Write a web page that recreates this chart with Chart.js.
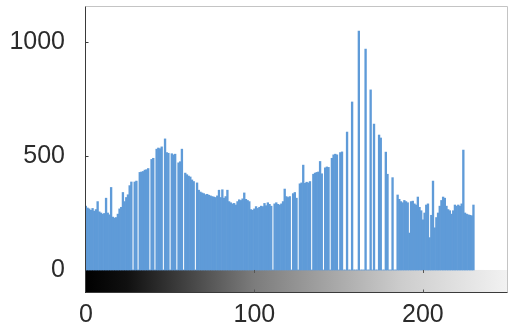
<!DOCTYPE html>
<html>
<head>
<meta charset="utf-8">
<script src="https://cdn.jsdelivr.net/npm/chart.js@4/dist/chart.umd.min.js"></script>
<style>
  html, body { margin: 0; padding: 0; background: #ffffff; }
  #wrap { width: 510px; height: 328px; }
</style>
</head>
<body>
<div id="wrap"><canvas id="c" width="510" height="328"></canvas></div>
<script>
// Intensity levels shown on the x axis (0 .. 250)
const levels = Array.from({ length: 251 }, (_, i) => i);

// Histogram counts for intensity levels 0 .. 230
const counts = [
  280, 272, 268, 262, 270, 258, 265, 300, 255, 250,
  245, 248, 315, 250, 242, 362, 232, 228, 230, 245,
  268, 275, 340, 300, 318, 330, 370, 386, 0, 386,
  390, 0, 428, 430, 432, 438, 440, 445, 0, 485,
  490, 0, 530, 535, 532, 540, 0, 575, 515, 512,
  0, 510, 505, 508, 0, 470, 475, 530, 0, 425,
  418, 412, 408, 395, 388, 0, 382, 350, 342, 338,
  335, 330, 332, 328, 325, 322, 320, 318, 325, 350,
  318, 352, 315, 322, 350, 300, 295, 290, 292, 285,
  300, 308, 305, 312, 338, 310, 305, 300, 265, 262,
  268, 278, 270, 275, 280, 278, 292, 282, 295, 288,
  280, 0, 290, 295, 288, 285, 290, 300, 355, 322,
  318, 322, 0, 335, 340, 315, 0, 378, 382, 460,
  380, 385, 382, 388, 0, 420, 425, 428, 430, 476,
  422, 0, 448, 452, 450, 0, 490, 505, 508, 505,
  0, 515, 518, 0, 0, 605, 0, 0, 737, 0,
  0, 0, 1048, 0, 0, 0, 969, 0, 0, 790,
  0, 640, 0, 0, 592, 579, 0, 0, 517, 420,
  0, 0, 405, 0, 0, 329, 310, 300, 295, 305,
  300, 295, 162, 300, 302, 290, 285, 320, 275, 260,
  220, 250, 285, 290, 142, 240, 390, 185, 230, 250,
  280, 305, 320, 315, 280, 265, 260, 245, 260, 285,
  280, 285, 280, 290, 526, 250, 245, 242, 240, 238,
  285
];

// Axis tick values
const xTickValues = [0, 100, 200];
const yTickValues = [0, 500, 1000];

const textColor = '#2b2b2b';
const barColor = '#5f9bd8';

const grayscaleBar = {
  id: 'grayscaleBar',
  beforeDatasetsDraw(chart) {
    const { ctx, chartArea } = chart;
    const y0 = chart.scales.y.getPixelForValue(0);
    const g = ctx.createLinearGradient(chartArea.left, 0, chartArea.right, 0);
    g.addColorStop(0, '#000000');
    g.addColorStop(0.1, '#101010');
    g.addColorStop(0.4, '#7c7c7c');
    g.addColorStop(0.75, '#cdcdcd');
    g.addColorStop(1, '#f2f2f2');
    ctx.save();
    ctx.fillStyle = g;
    ctx.fillRect(chartArea.left, y0, chartArea.right - chartArea.left, chartArea.bottom - y0);
    ctx.restore();
  },
  afterDraw(chart) {
    const { ctx, chartArea } = chart;
    const L = chartArea.left + 0.5, R = chartArea.right - 0.5, T = chartArea.top + 0.5, B = chartArea.bottom - 0.5;
    ctx.save();
    ctx.lineWidth = 1;
    ctx.strokeStyle = '#c4c4c4';
    ctx.beginPath();
    ctx.moveTo(L, T); ctx.lineTo(R, T); ctx.lineTo(R, B);
    ctx.stroke();
    ctx.strokeStyle = '#3a3a3a';
    ctx.beginPath();
    ctx.moveTo(L, T); ctx.lineTo(L, B); ctx.lineTo(R, B);
    ctx.stroke();
    const ys = chart.scales.y;
    yTickValues.forEach(v => {
      if (v === 0) return;
      const py = Math.round(ys.getPixelForValue(v)) + 0.5;
      ctx.beginPath(); ctx.moveTo(L, py); ctx.lineTo(L + 3, py); ctx.stroke();
    });
    const xs = chart.scales.x;
    const y0 = ys.getPixelForValue(0);
    ctx.strokeStyle = '#555555';
    xTickValues.forEach(v => {
      if (v === 0) return;
      const px = Math.round(xs.getPixelForValue(v)) + 0.5;
      ctx.beginPath(); ctx.moveTo(px, y0); ctx.lineTo(px, y0 + 3); ctx.stroke();
      ctx.beginPath(); ctx.moveTo(px, B); ctx.lineTo(px, B - 3); ctx.stroke();
    });
    ctx.restore();
  }
};

new Chart(document.getElementById('c'), {
  type: 'bar',
  data: {
    labels: levels,
    datasets: [{
      data: counts,
      backgroundColor: barColor,
      borderWidth: 0,
      barPercentage: 1.0,
      categoryPercentage: 1.0
    }]
  },
  options: {
    responsive: false,
    animation: false,
    devicePixelRatio: 1,
    layout: { padding: { top: 6, right: 2, left: 0, bottom: 0 } },
    plugins: { legend: { display: false }, tooltip: { enabled: false } },
    scales: {
      x: {
        type: 'category',
        grid: { display: false },
        border: { display: false },
        afterFit(scale) {
          scale.height = 35;
          scale.paddingLeft = 0; scale.paddingRight = 0;
        },
        ticks: {
          autoSkip: false,
          maxRotation: 0,
          minRotation: 0,
          padding: -1,
          color: textColor,
          font: { family: '"Liberation Sans", Arial, sans-serif', size: 25 },
          callback(value) {
            const lv = levels[value];
            return xTickValues.includes(lv) ? String(lv) : null;
          }
        }
      },
      y: {
        type: 'linear',
        min: -101,
        max: 1158,
        grid: { display: false },
        border: { display: false },
        afterFit(scale) {
          scale.width = 85;
          scale.paddingTop = 0; scale.paddingBottom = 0;
        },
        afterBuildTicks(scale) { scale.ticks = yTickValues.map(v => ({ value: v })); },
        ticks: {
          padding: 12,
          color: textColor,
          font: { family: '"Liberation Sans", Arial, sans-serif', size: 25 },
          callback(value) { return String(value); }
        }
      }
    }
  },
  plugins: [grayscaleBar]
});
</script>
</body>
</html>
